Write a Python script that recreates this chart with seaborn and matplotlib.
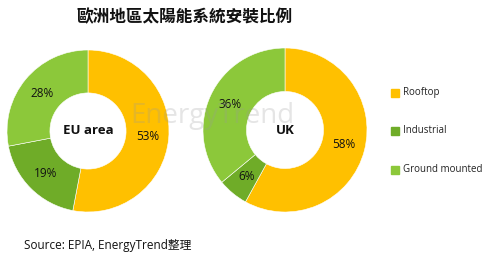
import matplotlib
matplotlib.use("Agg")
import matplotlib.pyplot as plt
import seaborn as sns
from matplotlib.patches import Rectangle

sns.set_theme(style="white")
plt.rcParams['font.family'] = ['Open Sans', 'Noto Sans CJK TC', 'DejaVu Sans']

title = "歐洲地區太陽能系統安裝比例"
categories = ["Rooftop", "Industrial", "Ground mounted"]
regions = ["EU area", "UK"]
eu_values = [53, 19, 28]
uk_values = [58, 6, 36]
colors = ["#FFC000", "#6FAC28", "#8CC83A"]
source = "Source: EPIA, EnergyTrend整理"

W, H = 493, 263
fig = plt.figure(figsize=(W / 100, H / 100), dpi=100)
fig.patch.set_facecolor("white")

def px_axes(cx, cy, r):
    return fig.add_axes([(cx - r) / W, (H - cy - r) / H, 2 * r / W, 2 * r / H])

def donut(ax, values, label):
    wedges, texts, autotexts = ax.pie(
        values, colors=colors, startangle=90, counterclock=False,
        radius=1.0, wedgeprops=dict(width=0.53, edgecolor="white", linewidth=0.4),
        autopct=lambda p: f"{p:.0f}%", pctdistance=0.735,
        textprops=dict(fontsize=8.5, color="#111111"))
    ax.set_xlim(-1, 1)
    ax.set_ylim(-1, 1)
    ax.set_aspect("equal")
    ax.axis("off")
    ax.text(0, 0, label, ha="center", va="center", fontsize=9.5,
            fontweight="bold", color="#111111")

ax1 = px_axes(88, 131, 81)
donut(ax1, eu_values, regions[0])
ax2 = px_axes(285, 130, 82)
donut(ax2, uk_values, regions[1])

# watermark
fig.text(212 / W, 1 - 116 / H, "EnergyTrend", ha="center", va="center",
         fontsize=20, color="#999999", alpha=0.25, zorder=0.5)

# legend
leg_y = [93, 131, 170]
for yy, cat, col in zip(leg_y, categories, colors):
    fig.patches.append(Rectangle(((395 - 4) / W, 1 - (yy + 4) / H), 8 / W, 8 / H,
                                 transform=fig.transFigure, color=col))
    fig.text(403 / W, 1 - yy / H, cat, ha="left", va="center", fontsize=7,
             color="#222222")

fig.text(185 / W, 1 - 17 / H, title, ha="center", va="center", fontsize=12,
         fontweight="bold", family=["Noto Sans CJK TC"], color="#111111")
fig.text(24 / W, 1 - 245 / H, source, ha="left", va="center", fontsize=8.5,
         color="#111111")

fig.savefig("out.png", dpi=100, facecolor="white")
